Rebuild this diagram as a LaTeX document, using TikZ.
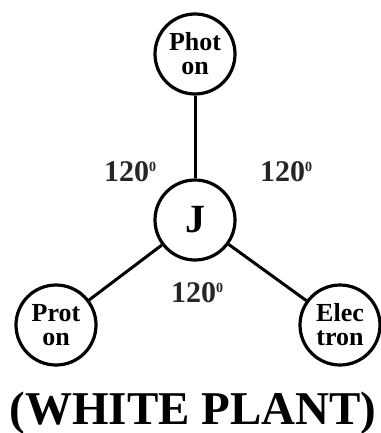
\documentclass[tikz,border=0pt]{standalone}
\usepackage{fontspec}
\setmainfont{Liberation Serif}
\newcommand{\degmark}{\raisebox{10pt}{\fontsize{14}{14}\selectfont 0}}
\begin{document}
\begin{tikzpicture}[x=1pt,y=-1pt,
  particle/.style={circle,draw=black,line width=3.2pt,minimum size=80pt,inner sep=0pt,align=center,font=\bfseries\fontsize{26}{24}\selectfont},
  link/.style={line width=3pt},
  anglelbl/.style={font=\bfseries\fontsize{30}{30}\selectfont,text=black!85}]
\useasboundingbox (0,0) rectangle (380,433);
\node[particle] (ph) at (195,54) {Phot\\on};
\node[particle,font=\bfseries\fontsize{40}{40}\selectfont] (j) at (195,220) {J};
\node[particle] (pr) at (56,325) {Prot\\on};
\node[particle] (el) at (340,325) {Elec\\tron};
\draw[link] (ph) -- (j);
\draw[link] (j) -- (pr);
\draw[link] (j) -- (el);
\node[anglelbl] (a1) at (130,172) {120\degmark};
\node[anglelbl] (a2) at (286,172) {120\degmark};
\node[anglelbl] (a3) at (197,293) {120\degmark};
\node[font=\bfseries\fontsize{47}{47}\selectfont,inner sep=0pt] (t) at (193,413) {(WHITE PLANT)};
\end{tikzpicture}
\end{document}
